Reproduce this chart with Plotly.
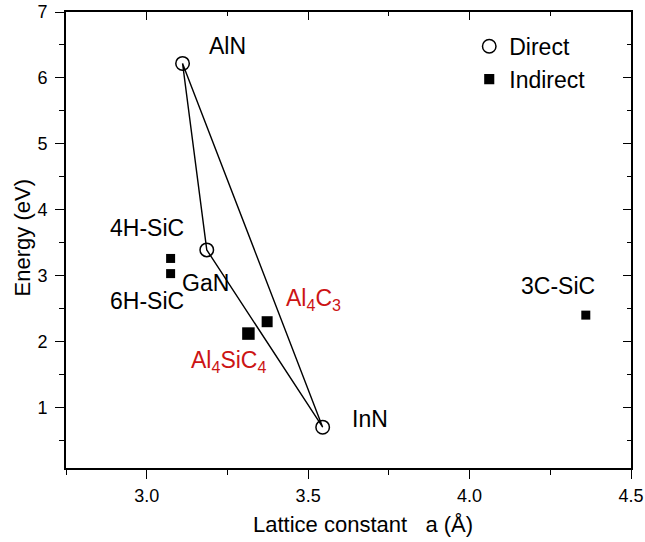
import plotly.graph_objects as go

# Direct-gap nitrides
direct_names = ["AlN", "GaN", "InN"]
direct_a = [3.111, 3.186, 3.545]
direct_eg = [6.22, 3.39, 0.70]

# Indirect-gap carbides
indirect_names = ["4H-SiC", "6H-SiC", "3C-SiC",
                  "Al<sub>4</sub>C<sub>3</sub>", "Al<sub>4</sub>SiC<sub>4</sub>"]
indirect_a = [3.074, 3.074, 4.360, 3.373, 3.315]
indirect_eg = [3.26, 3.03, 2.40, 2.30, 2.12]

x_range = [2.75, 4.5]
y_range = [0.08, 7.0]

FONT = "Liberation Sans, Arial, sans-serif"
RED = "#cc1414"

# marker sizes and label placement (pixel offsets from each point)
indirect_sizes = [9, 9, 9, 11, 12.5]
label_style = {
    "AlN": (45, 17, "black"),
    "GaN": (-1, -33, "black"),
    "InN": (47, 8, "black"),
    "4H-SiC": (-24, 30, "black"),
    "6H-SiC": (-24, -27, "black"),
    "3C-SiC": (-28, 29, "black"),
    "Al<sub>4</sub>C<sub>3</sub>": (46, 22, RED),
    "Al<sub>4</sub>SiC<sub>4</sub>": (-20, -28, RED),
}

fig = go.Figure()

# ternary nitride triangle AlN -> GaN -> InN -> AlN
fig.add_trace(go.Scatter(
    x=direct_a + [direct_a[0]], y=direct_eg + [direct_eg[0]],
    mode="lines", line=dict(color="black", width=1.4),
    showlegend=False, hoverinfo="skip"))

fig.add_trace(go.Scatter(
    x=direct_a, y=direct_eg, mode="markers", name="Direct",
    marker=dict(symbol="circle-open", size=13.5, color="black", opacity=1,
                line=dict(width=1.5, color="black"))))

fig.add_trace(go.Scatter(
    x=indirect_a, y=indirect_eg, mode="markers", name="Indirect",
    marker=dict(symbol="square", size=indirect_sizes, color="black",
                opacity=1, line=dict(width=0))))

# empty trace that activates the mirrored (top/right) axes
fig.add_trace(go.Scatter(x=[], y=[], xaxis="x2", yaxis="y2",
                         showlegend=False, hoverinfo="skip"))

for names, xs, ys in ((direct_names, direct_a, direct_eg),
                      (indirect_names, indirect_a, indirect_eg)):
    for n, xv, yv in zip(names, xs, ys):
        dx, dy, col = label_style[n]
        fig.add_annotation(x=xv, y=yv, text=n, showarrow=False,
                           xshift=dx, yshift=dy,
                           font=dict(family=FONT, size=23, color=col))

# axis titles
fig.add_annotation(xref="paper", yref="paper", x=0.5255, y=-0.124,
                   text="Lattice constant\u00a0\u00a0\u00a0a (Å)",
                   showarrow=False, xanchor="center", yanchor="middle",
                   font=dict(family=FONT, size=22, color="black"))
fig.add_annotation(xref="paper", yref="paper", x=-0.0775, y=0.504,
                   text="Energy (eV)", textangle=-90,
                   showarrow=False, xanchor="center", yanchor="middle",
                   font=dict(family=FONT, size=22, color="black"))

axis_common = dict(showgrid=False, zeroline=False, showline=True,
                   linecolor="black", linewidth=1.6, tickcolor="black",
                   tickwidth=1.4, automargin=False)

fig.update_layout(
    width=645, height=542,
    margin=dict(l=66, r=14, t=12, b=74, autoexpand=False),
    paper_bgcolor="white", plot_bgcolor="white",
    font=dict(family=FONT, color="black"),
    xaxis=dict(range=x_range, tick0=3.0, dtick=0.5, tickformat=".1f",
               ticks="outside", ticklen=9,
               minor=dict(ticks="outside", ticklen=5, dtick=0.25, tick0=3.0,
                          tickcolor="black", tickwidth=1.4),
               tickfont=dict(family=FONT, size=18, color="black"),
               ticklabelstandoff=2, **axis_common),
    yaxis=dict(range=y_range, tick0=0, dtick=1,
               ticks="outside", ticklen=9,
               minor=dict(ticks="outside", ticklen=5, dtick=0.5, tick0=0,
                          tickcolor="black", tickwidth=1.4),
               tickfont=dict(family=FONT, size=18, color="black"),
               ticklabelstandoff=4, **axis_common),
    xaxis2=dict(range=x_range, overlaying="x", side="top", anchor="y2",
                tick0=3.0, dtick=0.5, ticks="inside", ticklen=8,
                showticklabels=False,
                minor=dict(ticks="inside", ticklen=4, dtick=0.25, tick0=3.0,
                           tickcolor="black", tickwidth=1.4),
                **axis_common),
    yaxis2=dict(range=y_range, overlaying="y", side="right", anchor="x2",
                tick0=0, dtick=1, ticks="inside", ticklen=8,
                showticklabels=False,
                minor=dict(ticks="inside", ticklen=4, dtick=0.5, tick0=0,
                           tickcolor="black", tickwidth=1.4),
                **axis_common),
    legend=dict(x=0.7137, y=0.972, xanchor="left", yanchor="top",
                bgcolor="rgba(0,0,0,0)", borderwidth=0,
                font=dict(family=FONT, size=23, color="black")),
)

fig.write_html("out.html")
